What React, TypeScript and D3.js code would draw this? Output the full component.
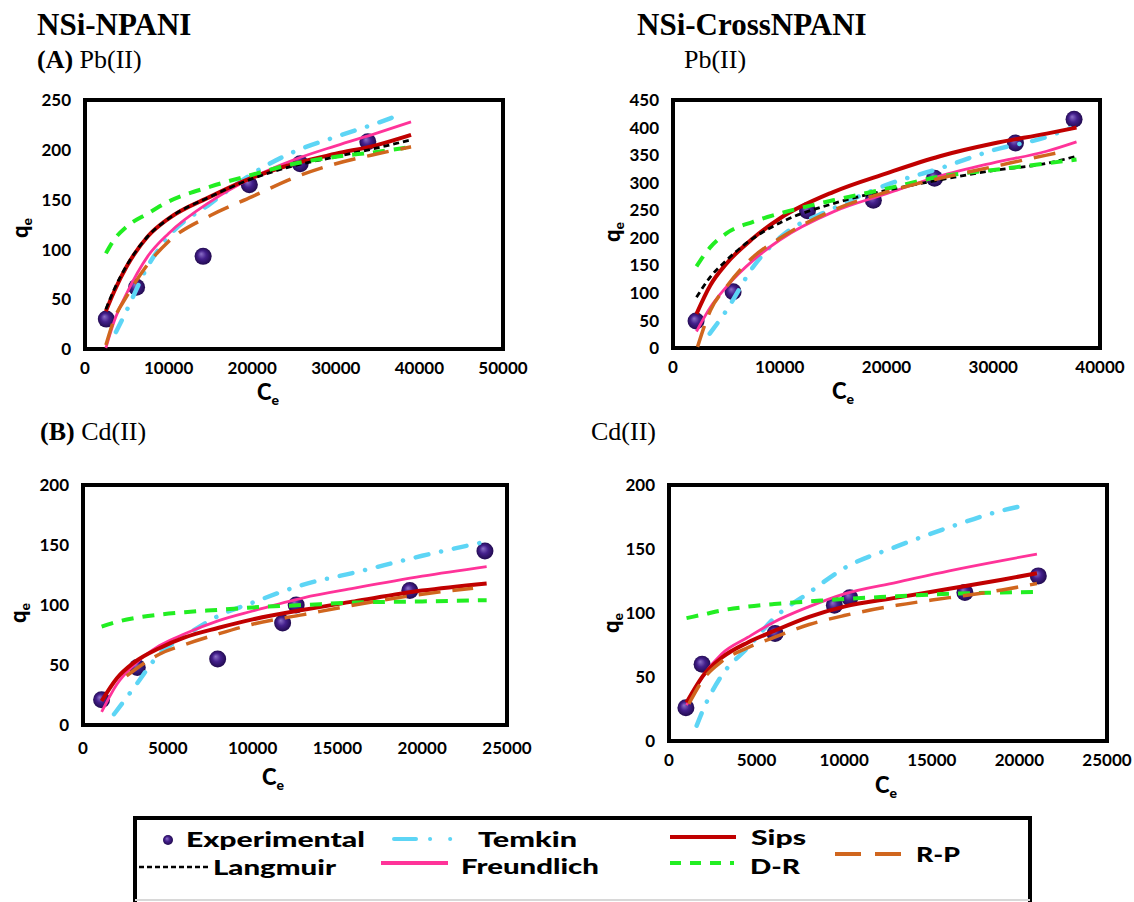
import React from "react";
import * as d3 from "d3";

// ---- values ----
// (A) Pb(II), NSi-NPANI
const pbNpaniExpC = [2550, 6170, 14130, 19660, 25740, 33830];
const pbNpaniExpQ = [30, 62, 93, 165, 186, 208];
const pbNpaniFitC = [2500, 3500, 5000, 7500, 10000, 15000, 20000, 25000, 30000, 35000, 39000];
const pbNpaniLangmuir = [40, 60, 84, 113, 131, 153, 171, 184, 193, 202, 210];
const pbNpaniSips = [38, 58, 83, 113, 131, 153, 172, 186, 196, 205, 215];
const pbNpaniFreundlich = [1, 28, 56, 93, 116, 148, 172, 190, 204, 217, 228];
const pbNpaniDR = [96, 110, 123, 136, 148, 163, 175, 186, 193, 198, 203];
const pbNpaniRP = [4, 30, 53, 85, 108, 134, 153, 172, 186, 196, 203];
const pbNpaniTemkinC = [3700, 5000, 7500, 10000, 15000, 20000, 25000, 30000, 35000, 37300];
const pbNpaniTemkin = [17, 39, 83, 113, 146, 176, 198, 213, 227, 234];

// Pb(II), NSi-CrossNPANI
const pbCrossExpC = [2160, 5630, 12600, 18770, 24500, 32080, 37570];
const pbCrossExpQ = [49, 102, 249, 268, 308, 372, 415];
const pbCrossFitC = [2200, 3500, 5000, 7500, 10000, 15000, 20000, 25000, 30000, 35000, 37800];
const pbCrossLangmuir = [92, 129, 159, 199, 227, 262, 286, 305, 322, 335, 348];
const pbCrossSips = [62, 114, 153, 199, 235, 283, 317, 348, 371, 389, 400];
const pbCrossFreundlich = [30, 74, 111, 159, 196, 247, 280, 312, 336, 357, 374];
const pbCrossDR = [148, 183, 208, 229, 244, 268, 289, 311, 323, 335, 342];
const pbCrossRPC = [2300, 3500, 5000, 7500, 10000, 15000, 20000, 25000, 30000, 35000, 36500];
const pbCrossRP = [2, 68, 111, 165, 199, 250, 283, 308, 329, 350, 356];
const pbCrossTemkinC = [3440, 5000, 7500, 10000, 15000, 20000, 25000, 30000, 35000, 37200];
const pbCrossTemkin = [26, 68, 147, 200, 253, 296, 326, 359, 383, 399];

// (B) Cd(II), NSi-NPANI
const cdNpaniExpC = [1095, 3200, 7940, 11770, 12570, 19270, 23700];
const cdNpaniExpQ = [21, 48, 55, 85, 100, 112, 145];
const cdNpaniFitC = [1100, 2000, 3000, 4500, 6000, 8000, 10000, 13000, 16000, 20000, 23800];
const cdNpaniSips = [20, 39, 52, 64, 73, 81, 88, 96, 103, 112, 118];
const cdNpaniFreundlich = [11, 34, 50, 66, 76, 87, 95, 106, 114, 124, 132];
const cdNpaniDR = [82, 86, 89, 92, 94, 96, 98, 100, 102, 103, 104];
const cdNpaniTemkinC = [1830, 3000, 4500, 6000, 8000, 10000, 13000, 16000, 20000, 23500];
const cdNpaniTemkin = [9, 31, 59, 74, 91, 102, 117, 127, 141, 152];
const cdNpaniRPC = [2570, 4500, 6000, 8000, 10000, 13000, 16000, 20000, 23000];
const cdNpaniRP = [41, 59, 67, 76, 84, 92, 100, 109, 114];

// Cd(II), NSi-CrossNPANI
const cdCrossExpC = [965, 1890, 6055, 9440, 10320, 16890, 21080];
const cdCrossExpQ = [26, 60, 84, 106, 112, 116, 129];
const cdCrossFitC = [1000, 2000, 3000, 4500, 6000, 8000, 10000, 13000, 16000, 19000, 21000];
const cdCrossSips = [30, 52, 65, 77, 86, 97, 105, 112, 119, 126, 131];
const cdCrossFreundlich = [28, 52, 68, 81, 93, 105, 115, 124, 133, 141, 146];
const cdCrossDR = [96, 99, 102, 105, 107, 109, 111, 113, 115, 116, 116.5];
const cdCrossRPC = [1130, 2000, 3000, 4500, 6000, 8000, 10000, 13000, 16000, 19000, 21000];
const cdCrossRP = [29, 49, 62, 73, 81, 91, 98, 106, 112, 118, 123];
const cdCrossTemkinC = [1580, 2000, 3000, 4500, 6000, 8000, 10000, 13000, 16000, 19000, 20300];
const cdCrossTemkin = [12, 26, 51, 73, 96, 116, 135, 152, 167, 180, 184];

// tick labels
const xTicksPbNpani = [0, 10000, 20000, 30000, 40000, 50000];
const xTicksPbCross = [0, 10000, 20000, 30000, 40000];
const xTicksCd = [0, 5000, 10000, 15000, 20000, 25000];
const yTicksPbNpani = [0, 50, 100, 150, 200, 250];
const yTicksPbCross = [0, 50, 100, 150, 200, 250, 300, 350, 400, 450];
const yTicksCd = [0, 50, 100, 150, 200];

const zip = (cs: number[], qs: number[]) => cs.map((c, i) => [c, qs[i]] as [number, number]);

type Style = { stroke: string; width: number; dash?: string; cap?: string };
const styles: Record<string, Style> = {
  Temkin: { stroke: "#5dd5f5", width: 4.5, dash: "13,13,0.1,13", cap: "round" },
  Freundlich: { stroke: "#ff3399", width: 2.8 },
  Sips: { stroke: "#c00000", width: 4 },
  Langmuir: { stroke: "#000000", width: 2.8, dash: "6,4" },
  "D-R": { stroke: "#22ee22", width: 4, dash: "12,9" },
  "R-P": { stroke: "#d0661e", width: 3.5, dash: "22,12" },
};
const drawOrder = ["Temkin", "Freundlich", "Sips", "Langmuir", "D-R", "R-P"];

type Panel = {
  box: [number, number, number, number];
  xMax: number;
  yMax: number;
  xTicks: number[];
  yTicks: number[];
  xLabelDy: number;
  qPos: [number, number];
  cPos: [number, number];
  exp: [number, number][];
  curves: Record<string, [number, number][]>;
};

const panels: Panel[] = [
  {
    box: [85, 100, 503, 349],
    xMax: 50000,
    yMax: 250,
    xTicks: xTicksPbNpani,
    yTicks: yTicksPbNpani,
    xLabelDy: 25,
    qPos: [21, 228],
    cPos: [268, 393],
    exp: zip(pbNpaniExpC, pbNpaniExpQ),
    curves: {
      Langmuir: zip(pbNpaniFitC, pbNpaniLangmuir),
      Sips: zip(pbNpaniFitC, pbNpaniSips),
      Freundlich: zip(pbNpaniFitC, pbNpaniFreundlich),
      "D-R": zip(pbNpaniFitC, pbNpaniDR),
      "R-P": zip(pbNpaniFitC, pbNpaniRP),
      Temkin: zip(pbNpaniTemkinC, pbNpaniTemkin),
    },
  },
  {
    box: [673, 100, 1100, 348],
    xMax: 40000,
    yMax: 450,
    xTicks: xTicksPbCross,
    yTicks: yTicksPbCross,
    xLabelDy: 25,
    qPos: [613, 232],
    cPos: [843, 392],
    exp: zip(pbCrossExpC, pbCrossExpQ),
    curves: {
      Langmuir: zip(pbCrossFitC, pbCrossLangmuir),
      Sips: zip(pbCrossFitC, pbCrossSips),
      Freundlich: zip(pbCrossFitC, pbCrossFreundlich),
      "D-R": zip(pbCrossFitC, pbCrossDR),
      "R-P": zip(pbCrossRPC, pbCrossRP),
      Temkin: zip(pbCrossTemkinC, pbCrossTemkin),
    },
  },
  {
    box: [83, 485, 507, 725],
    xMax: 25000,
    yMax: 200,
    xTicks: xTicksCd,
    yTicks: yTicksCd,
    xLabelDy: 29,
    qPos: [19, 613],
    cPos: [273, 778],
    exp: zip(cdNpaniExpC, cdNpaniExpQ),
    curves: {
      Sips: zip(cdNpaniFitC, cdNpaniSips),
      Freundlich: zip(cdNpaniFitC, cdNpaniFreundlich),
      "D-R": zip(cdNpaniFitC, cdNpaniDR),
      "R-P": zip(cdNpaniRPC, cdNpaniRP),
      Temkin: zip(cdNpaniTemkinC, cdNpaniTemkin),
    },
  },
  {
    box: [669, 485, 1107, 741],
    xMax: 25000,
    yMax: 200,
    xTicks: xTicksCd,
    yTicks: yTicksCd,
    xLabelDy: 25,
    qPos: [612, 623],
    cPos: [886, 786],
    exp: zip(cdCrossExpC, cdCrossExpQ),
    curves: {
      Sips: zip(cdCrossFitC, cdCrossSips),
      Freundlich: zip(cdCrossFitC, cdCrossFreundlich),
      "D-R": zip(cdCrossFitC, cdCrossDR),
      "R-P": zip(cdCrossRPC, cdCrossRP),
      Temkin: zip(cdCrossTemkinC, cdCrossTemkin),
    },
  },
];

const sans = "Lato, 'DejaVu Sans', sans-serif";
const serif = "'Liberation Serif', 'Times New Roman', serif";

function PanelView({ p, idx }: { p: Panel; idx: number }) {
  const [x0, y0, x1, y1] = p.box;
  const x = d3.scaleLinear().domain([0, p.xMax]).range([x0, x1]);
  const y = d3.scaleLinear().domain([0, p.yMax]).range([y1, y0]);
  const line = d3
    .line<[number, number]>()
    .x((d) => x(d[0]))
    .y((d) => y(d[1]))
    .curve(d3.curveMonotoneX);

  return (
    <g>
      <rect x={x0} y={y0} width={x1 - x0} height={y1 - y0} fill="#fff" stroke="#000" strokeWidth={4} />
      {p.yTicks.map((t) => (
        <text key={"y" + t} x={x0 - 14} y={y(t)} dy="0.36em" textAnchor="end" fontFamily={sans} fontWeight="bold" fontSize={17}>
          {t}
        </text>
      ))}
      {p.xTicks.map((t) => (
        <text key={"x" + t} x={x(t)} y={y1 + p.xLabelDy} textAnchor="middle" fontFamily={sans} fontWeight="bold" fontSize={17}>
          {t}
        </text>
      ))}
      <text transform={`translate(${p.qPos[0]},${p.qPos[1]}) rotate(-90)`} textAnchor="middle" dy="0.3em" fontFamily={sans} fontWeight="900" fontSize={22}>
        q<tspan fontSize={14} dy="4">e</tspan>
      </text>
      <text x={p.cPos[0]} y={p.cPos[1]} dy="0.3em" textAnchor="middle" fontFamily={sans} fontWeight="900" fontSize={22}>
        C<tspan fontSize={14} dy="5">e</tspan>
      </text>
      {p.exp.map((d, i) => (
        <circle key={"e" + i} cx={x(d[0])} cy={y(d[1])} r={8.5} fill="url(#sphere)" />
      ))}
      {drawOrder
        .filter((k) => p.curves[k])
        .map((k) => {
          const s = styles[k];
          return (
            <path
              key={k + idx}
              d={line(p.curves[k]) || ""}
              fill="none"
              stroke={s.stroke}
              strokeWidth={s.width}
              strokeDasharray={s.dash}
              strokeLinecap={(s.cap as any) || "butt"}
            />
          );
        })}
    </g>
  );
}

const legendItems = [
  { key: "Experimental", x1: 160, x2: 176, y: 840, tx: 186, tw: 179, ty: 847 },
  { key: "Temkin", x1: 394, x2: 461, y: 839, tx: 478, tw: 99, ty: 847 },
  { key: "Sips", x1: 670, x2: 736, y: 837, tx: 751, tw: 55, ty: 845 },
  { key: "Langmuir", x1: 139, x2: 208, y: 867, tx: 213, tw: 123, ty: 875 },
  { key: "Freundlich", x1: 381, x2: 448, y: 863, tx: 461, tw: 138, ty: 874 },
  { key: "D-R", x1: 670, x2: 734, y: 863, tx: 750, tw: 50, ty: 874 },
  { key: "R-P", x1: 835, x2: 902, y: 854, tx: 916, tw: 44, ty: 862 },
];

const legendDash: Record<string, string | undefined> = {
  Temkin: "22,14,0.1,20,0.1,40",
  Langmuir: "5,3",
  "D-R": "11,9",
  "R-P": "26,14",
};

export default function App() {
  return (
    <svg width={1134} height={902} style={{ position: "absolute", left: 0, top: 0, background: "#fff" }}>
      <defs>
        <radialGradient id="sphere" cx="50%" cy="50%" r="55%" fx="38%" fy="35%">
          <stop offset="0%" stopColor="#8c70c8" />
          <stop offset="45%" stopColor="#44208c" />
          <stop offset="100%" stopColor="#1c0746" />
        </radialGradient>
      </defs>
      <rect width={1134} height={902} fill="#fff" />

      <text x={37} y={35} fontFamily={serif} fontWeight="bold" fontSize={31}>NSi-NPANI</text>
      <text x={637} y={35} fontFamily={serif} fontWeight="bold" fontSize={31}>NSi-CrossNPANI</text>
      <text x={37} y={68} fontFamily={serif} fontSize={26}>
        <tspan fontWeight="bold">(A)</tspan> Pb(II)
      </text>
      <text x={684} y={68} fontFamily={serif} fontSize={26}>Pb(II)</text>
      <text x={40} y={440} fontFamily={serif} fontSize={26}>
        <tspan fontWeight="bold">(B)</tspan> Cd(II)
      </text>
      <text x={591} y={440} fontFamily={serif} fontSize={26}>Cd(II)</text>

      {panels.map((p, i) => (
        <PanelView key={i} p={p} idx={i} />
      ))}

      <g>
        <line x1={135} y1={818} x2={1030} y2={818} stroke="#000" strokeWidth={4} />
        <line x1={135} y1={816} x2={135} y2={902} stroke="#000" strokeWidth={4} />
        <line x1={1030} y1={816} x2={1030} y2={902} stroke="#000" strokeWidth={4} />
        <line x1={135} y1={900} x2={1030} y2={900} stroke="#d8d8d8" strokeWidth={2} />
        {legendItems.map((it) => {
          const s = styles[it.key];
          return (
            <g key={it.key}>
              {it.key === "Experimental" ? (
                <circle cx={168} cy={it.y} r={5} fill="url(#sphere)" />
              ) : (
                <line
                  x1={it.x1}
                  x2={it.x2}
                  y1={it.y}
                  y2={it.y}
                  stroke={s.stroke}
                  strokeWidth={it.key === "Langmuir" ? 2.5 : 4}
                  strokeDasharray={legendDash[it.key]}
                  strokeLinecap={it.key === "Temkin" ? "round" : "butt"}
                />
              )}
              <text x={it.tx} y={it.ty} textLength={it.tw} lengthAdjust="spacingAndGlyphs" fontFamily={sans} fontWeight="900" fontSize={20}>
                {it.key}
              </text>
            </g>
          );
        })}
      </g>
    </svg>
  );
}
